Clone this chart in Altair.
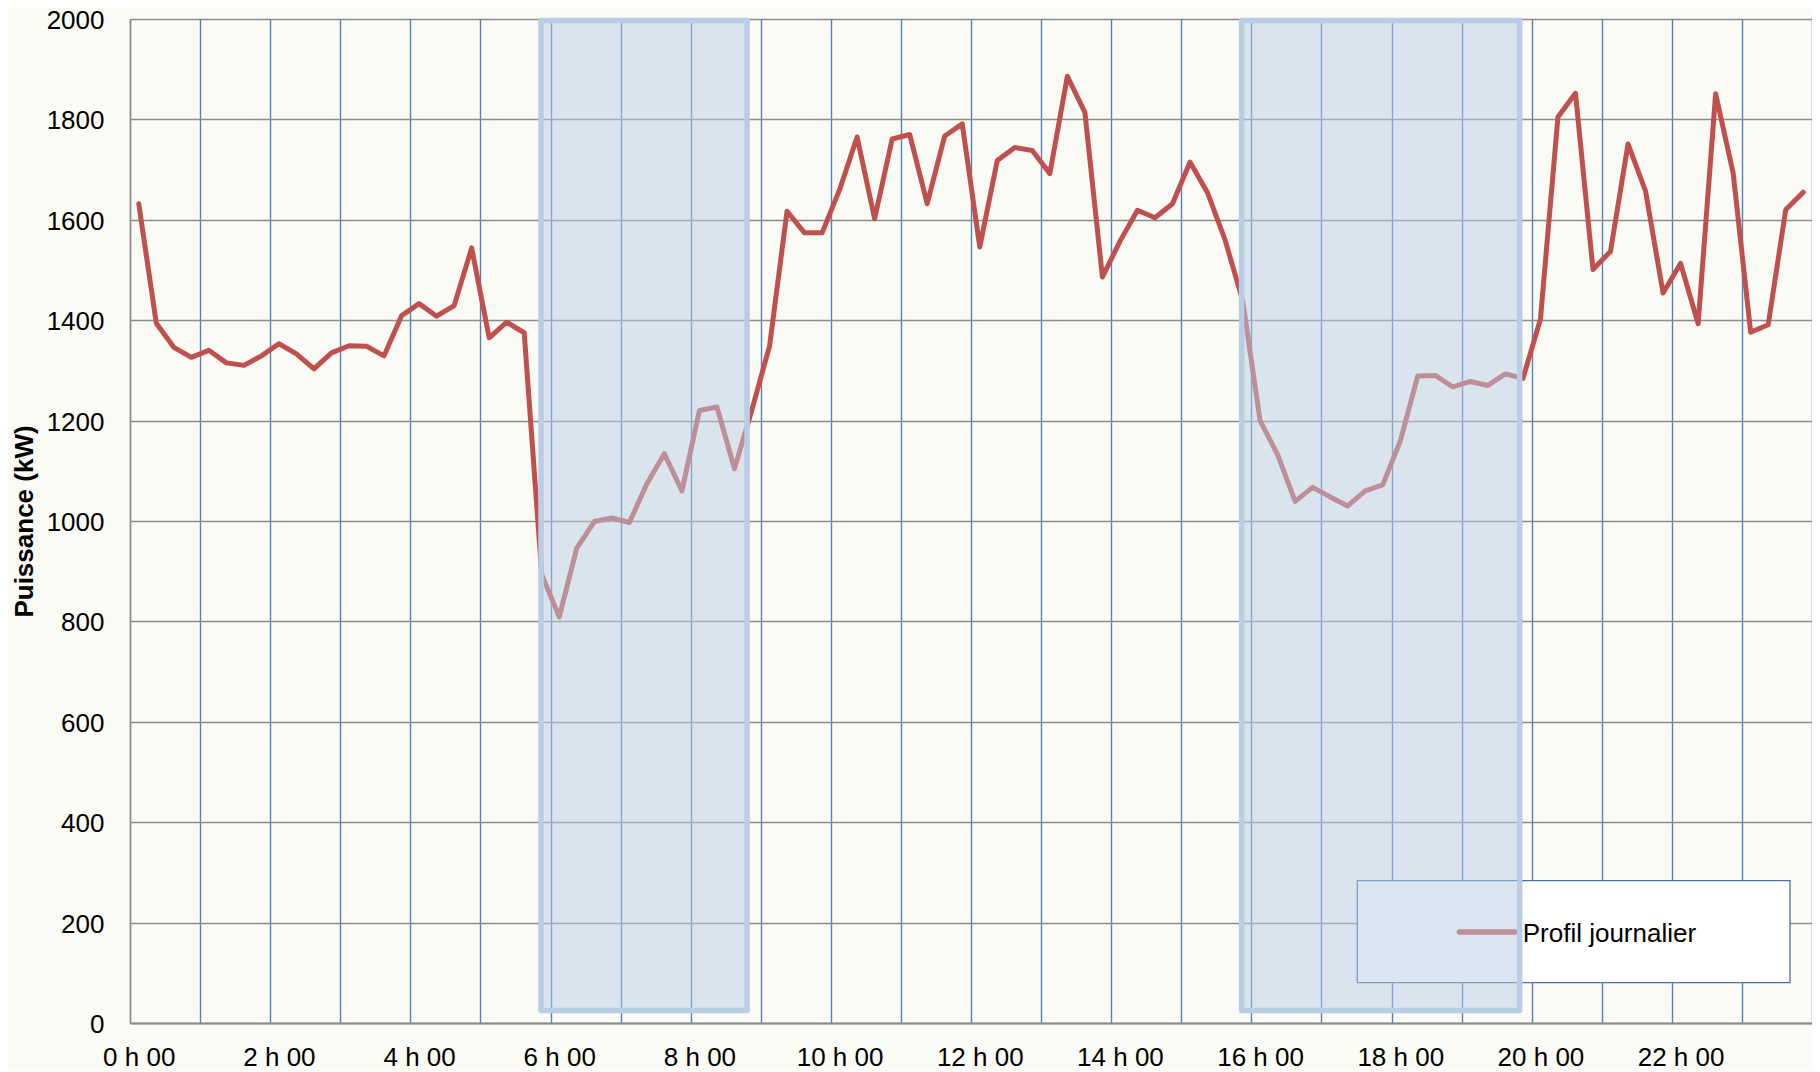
import altair as alt
import pandas as pd

# Daily load profile, one value per quarter hour (kW)
power_kw = [
    1632, 1394, 1346, 1326, 1340, 1315, 1310, 1329, 1353, 1333, 1303, 1335,
    1349, 1348, 1329, 1409, 1433, 1408, 1429, 1544, 1365, 1396, 1375,
    893, 809, 946, 999, 1006, 997, 1074, 1134, 1060, 1220, 1227, 1104, 1222,
    1348, 1617, 1574, 1574, 1660, 1765, 1602, 1761, 1770, 1632, 1767, 1791,
    1546, 1718, 1744, 1738, 1692, 1886, 1814,
    1486, 1557, 1619, 1604, 1632, 1715, 1654, 1560, 1440,
    1200, 1132, 1039, 1067, 1048, 1030, 1060, 1072, 1159,
    1289, 1290, 1267, 1278, 1270, 1293, 1284,
    1402, 1805, 1852, 1501, 1537, 1751, 1657, 1454, 1513, 1393, 1851, 1693,
    1376, 1391, 1620, 1655,
]
time_labels = [f"{(i * 15) // 60} h {(i * 15) % 60:02d}" for i in range(len(power_kw))]

# Highlighted periods (hours) and their vertical extent (kW)
band_start_h = [5.865, 15.861]
band_end_h = [8.805, 19.829]
band_low_kw = [25, 25]
band_high_kw = [1997, 1997]

legend_label = ["Profil journalier"]
y_title = "Puissance (kW)"

FONT = "Liberation Sans"
RED = "#C0504D"
BG = "#FAFBF5"
W, H = 1682, 1004

df = pd.DataFrame({
    "hour": [(i + 0.5) / 4 for i in range(len(power_kw))],
    "kw": power_kw,
    "time": time_labels,
})
bands = pd.DataFrame({"start": band_start_h, "end": band_end_h,
                      "low": band_low_kw, "high": band_high_kw})
leg = pd.DataFrame({"label": legend_label})

x_scale = alt.Scale(domain=[0, 24], nice=False, zero=False)
y_scale = alt.Scale(domain=[0, 2000], nice=False)

x_axis = alt.Axis(
    values=list(range(25)), grid=True,
    gridColor={"condition": {"test": "datum.value == 0", "value": "#8C8C8C"}, "value": "#4F81BD"},
    gridWidth=1.4,
    labelExpr="datum.value % 2 == 0 && datum.value < 24 ? datum.value + ' h 00' : ''",
    labelOffset=8.76, labelFlush=False, labelOverlap=False, labelBound=False,
    ticks=False, tickSize=0, labelPadding=21, labelFontSize=26, labelFont=FONT,
    labelColor="black", domain=True, domainColor="#8C8C8C", domainWidth=2, title=None,
)
y_axis = alt.Axis(
    values=list(range(0, 2001, 200)), grid=True, gridColor="#8C8C8C", gridWidth=1.5,
    domain=True, domainColor="#8C8C8C", domainWidth=1.5, format="d",
    ticks=False, tickSize=0, labelPadding=26, labelFontSize=26, labelFont=FONT,
    labelColor="black", labelOffset=1.5,
    title=y_title, titleFont=FONT, titleFontSize=26, titleFontWeight="bold",
    titleColor="black", titleX=-98, titleY=H / 2, titleAngle=270,
    titleBaseline="alphabetic", titleAlign="center",
)

line = alt.Chart(df).mark_line(
    color=RED, strokeWidth=5, strokeJoin="round", strokeCap="round"
).encode(
    x=alt.X("hour:Q", scale=x_scale, axis=x_axis),
    y=alt.Y("kw:Q", scale=y_scale, axis=y_axis),
    order="hour:Q",
)

legend_box = alt.Chart(leg).mark_rect(
    fill="white", stroke="#4A6FA5", strokeWidth=1.3
).encode(
    x=alt.value(1227.3), x2=alt.value(1660), y=alt.value(861.7), y2=alt.value(963.7)
)
legend_sym = alt.Chart(leg).mark_rule(
    color=RED, strokeWidth=5.3, strokeCap="round"
).encode(x=alt.value(1329.3), x2=alt.value(1385), y=alt.value(913))
legend_text = alt.Chart(leg).mark_text(
    align="left", baseline="alphabetic", fontSize=26, font=FONT, color="black"
).encode(x=alt.value(1392.7), y=alt.value(922.7), text="label:N")

band_rects = alt.Chart(bands).mark_rect(
    fill="#B9CDE5", fillOpacity=0.5, stroke="#B9CDE5", strokeOpacity=1,
    strokeWidth=5.5, strokeJoin="round"
).encode(
    x=alt.X("start:Q", scale=x_scale), x2="end:Q",
    y=alt.Y("low:Q", scale=y_scale), y2="high:Q",
)

chart = alt.layer(line, legend_box, legend_sym, legend_text, band_rects).properties(
    width=W, height=H,
    padding={"left": 122, "top": 11, "right": 0, "bottom": 48},
    autosize=alt.AutoSizeParams(type="none"),
).configure(background=BG).configure_view(stroke=None)

chart.save("out.html", embed_options={"renderer": "svg", "actions": False})
